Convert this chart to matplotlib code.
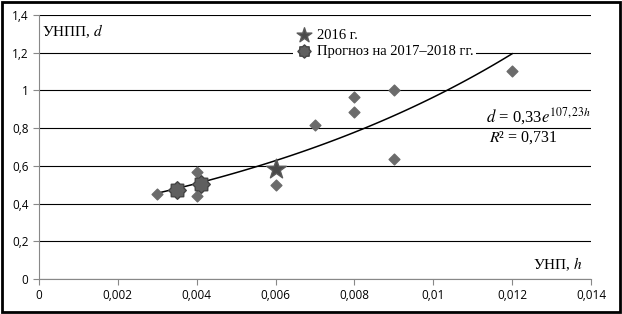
import numpy as np
import matplotlib.pyplot as plt
from matplotlib.patches import Rectangle
from matplotlib.path import Path
from matplotlib.ticker import FuncFormatter

# observed points (УНП h, УНПП d)
h_obs = [0.003, 0.004, 0.004, 0.006, 0.007, 0.008, 0.008, 0.009, 0.009, 0.012]
d_obs = [0.45, 0.57, 0.44, 0.50, 0.815, 0.965, 0.885, 1.0, 0.635, 1.105]

# 2016
h_2016 = [0.006]
d_2016 = [0.585]

# forecast 2017-2018
h_fc = [0.0035, 0.0041]
d_fc = [0.47, 0.505]

# exponential trend shown on the chart
coef_a = 0.33
coef_b = 107.23
r2 = 0.731

# gear-like marker for the forecast points
ang = np.linspace(0, 2 * np.pi, 17)[:-1] + np.pi / 2
rad = np.where(np.arange(16) % 2 == 0, 1.0, 0.78)
verts = np.column_stack([rad * np.cos(ang), rad * np.sin(ang)])
verts = np.vstack([verts, verts[:1]])
gear = Path(verts, closed=True)

fig = plt.figure(figsize=(6.22, 3.14), dpi=100)
ax = fig.add_axes([0.0627, 0.1115, 0.8875, 0.8405])

ax.set_xlim(0, 0.014)
ax.set_ylim(0, 1.4)
ax.set_xticks(np.arange(0, 0.0141, 0.002))
ax.set_yticks(np.arange(0, 1.41, 0.2))

def comma(v, pos):
    s = ('%.3f' % v).rstrip('0').rstrip('.')
    return s.replace('.', ',')

ax.xaxis.set_major_formatter(FuncFormatter(comma))
ax.yaxis.set_major_formatter(FuncFormatter(comma))
ax.grid(axis='y', color='black', lw=0.8)
ax.set_axisbelow(True)
for side in ['top', 'right']:
    ax.spines[side].set_visible(False)
for side in ['left', 'bottom']:
    ax.spines[side].set_color('#888888')
ax.tick_params(colors='#888888', length=4, labelcolor='black', labelsize=8.5)
for lbl in ax.get_xticklabels() + ax.get_yticklabels():
    lbl.set_family('Open Sans')

hh = np.linspace(min(h_obs), max(h_obs), 100)
ax.plot(hh, coef_a * np.exp(coef_b * hh), color='black', lw=1.1, zorder=2)

ax.scatter(h_obs, d_obs, marker='D', s=30, color='#6b6b6b', zorder=3)
ax.scatter(h_2016, d_2016, marker='*', s=220, color='#4a4a4a', edgecolor='#5a5a5a', zorder=4, label='2016 г.')
ax.scatter(h_fc, d_fc, marker=gear, s=160, color='#5f5f5f', edgecolor='#444444', lw=1.0, zorder=4,
           label='Прогноз на 2017–2018 гг.')

leg = ax.legend(loc='upper left', bbox_to_anchor=(0.447, 0.985), frameon=True, framealpha=1,
                edgecolor='none', fancybox=False, handletextpad=0.3, borderpad=0.15,
                labelspacing=0.2, markerscale=0.75, handlelength=1.2,
                prop={'family': 'Liberation Serif', 'size': 10.5})

ax.text(0.005, 0.94, 'УНПП, $d$', transform=ax.transAxes, family='Liberation Serif', fontsize=11,
        va='center', math_fontfamily='stix')
ax.text(0.985, 0.055, 'УНП, $h$', transform=ax.transAxes, family='Liberation Serif', fontsize=11,
        ha='right', va='center', math_fontfamily='stix')
ax.text(0.999, 0.615, r'$d$ = 0,33$e^{107,23h}$', transform=ax.transAxes, family='Liberation Serif',
        fontsize=12, ha='right', va='center', math_fontfamily='stix')
ax.text(0.94, 0.535, '$R$² = ' + str(r2).replace('.', ','), transform=ax.transAxes,
        family='Liberation Serif', fontsize=11.5, ha='right', va='center', math_fontfamily='stix')

fig.patches.append(Rectangle((0.004, 0.006), 0.992, 0.988, transform=fig.transFigure,
                             fill=False, edgecolor='black', lw=2))

fig.savefig('out.png', dpi=100)
